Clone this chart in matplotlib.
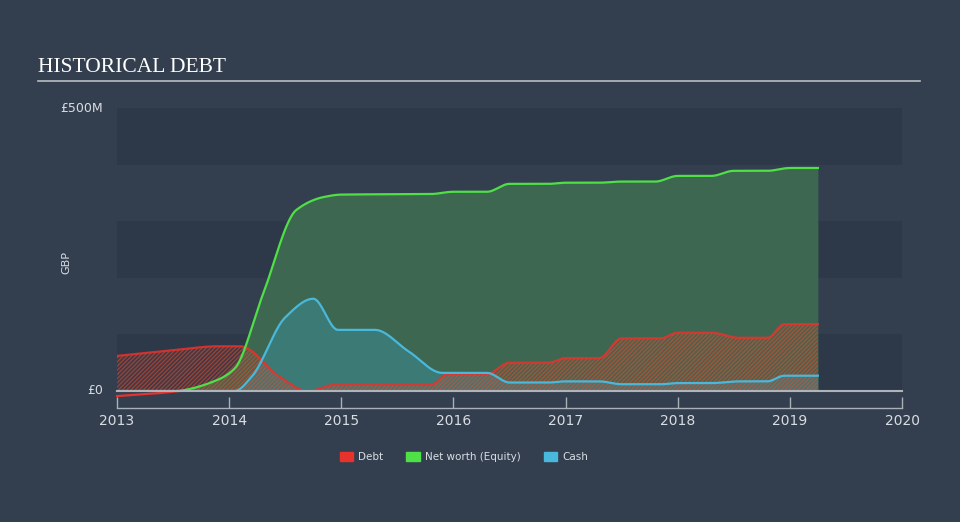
import numpy as np
import matplotlib
matplotlib.use("Agg")
import matplotlib.pyplot as plt
from matplotlib.lines import Line2D
from matplotlib.patches import Patch

# ---- data (GBP millions) ----
debt_t = [2013.0, 2013.5, 2013.9, 2014.1, 2014.45, 2014.7, 2014.95, 2015.8, 2015.95, 2016.3, 2016.5, 2016.85, 2017.0, 2017.3, 2017.5, 2017.85, 2018.0, 2018.3, 2018.55, 2018.8, 2018.95, 2019.25]
debt_v = [62, 72, 79, 79, 25, 0, 11, 11, 30, 30, 50, 50, 58, 58, 93, 93, 103, 103, 94, 94, 118, 118]

eq_t = [2013.0, 2013.55, 2013.9, 2014.05, 2014.3, 2014.6, 2014.85, 2015.0, 2015.8, 2016.0, 2016.3, 2016.5, 2016.85, 2017.0, 2017.3, 2017.5, 2017.8, 2018.0, 2018.3, 2018.5, 2018.8, 2019.0, 2019.25]
eq_v = [-9, 0, 20, 40, 170, 320, 343, 347, 348, 352, 352, 366, 366, 368, 368, 370, 370, 380, 380, 389, 389, 394, 394]

cash_t = [2013.0, 2014.05, 2014.2, 2014.5, 2014.75, 2014.97, 2015.3, 2015.6, 2015.9, 2016.3, 2016.5, 2016.85, 2017.0, 2017.3, 2017.5, 2017.85, 2018.0, 2018.3, 2018.55, 2018.8, 2018.95, 2019.25]
cash_v = [0, 0, 25, 130, 163, 108, 108, 70, 32, 32, 15, 15, 17, 17, 12, 12, 14, 14, 17, 17, 27, 27]

year_ticks = [2013, 2014, 2015, 2016, 2017, 2018, 2019, 2020]
legend_labels = ["Debt", "Net worth (Equity)", "Cash"]

BG = "#333f4f"
BAND = "#2d3948"
RED = "#e8322c"
GREEN = "#4fe048"
BLUE = "#48b9dc"
TXT = "#d8dde3"

plt.rcParams["hatch.linewidth"] = 0.9


def monotone(x, y, n=600):
    x = np.asarray(x, float); y = np.asarray(y, float)
    h = np.diff(x); d = np.diff(y) / h
    m = np.zeros_like(y)
    m[0], m[-1] = d[0], d[-1]
    for i in range(1, len(y) - 1):
        if d[i - 1] * d[i] <= 0:
            m[i] = 0
        else:
            w1 = 2 * h[i] + h[i - 1]; w2 = h[i] + 2 * h[i - 1]
            m[i] = (w1 + w2) / (w1 / d[i - 1] + w2 / d[i])
    xs = np.linspace(x[0], x[-1], n)
    idx = np.clip(np.searchsorted(x, xs) - 1, 0, len(x) - 2)
    t = (xs - x[idx]) / h[idx]
    h00 = 2 * t**3 - 3 * t**2 + 1; h10 = t**3 - 2 * t**2 + t
    h01 = -2 * t**3 + 3 * t**2; h11 = t**3 - t**2
    ys = h00 * y[idx] + h10 * h[idx] * m[idx] + h01 * y[idx + 1] + h11 * h[idx] * m[idx + 1]
    return xs, ys


fig = plt.figure(figsize=(9.6, 5.22), dpi=100, facecolor=BG)
ax = fig.add_axes([117 / 960, 1 - 391 / 522, (902 - 117) / 960, (391 - 108) / 522])
ax.set_facecolor(BG)
ax.set_xlim(2013, 2020)
ax.set_ylim(0, 500)

for lo in (0, 200, 400):
    ax.axhspan(lo, lo + 100, color=BAND, zorder=0, lw=0)

ex, ey = monotone(eq_t, eq_v)
cx, cy = monotone(cash_t, cash_v)
dx, dy = monotone(debt_t, debt_v)

ax.fill_between(ex, 0, ey, where=ey > 0, color="#3f6a52", alpha=0.95, lw=0, zorder=1)
ax.fill_between(cx, 0, cy, color="#3a8a93", alpha=0.55, lw=0, zorder=2)
ax.fill_between(dx, 0, dy, color=RED, alpha=0.12, lw=0, zorder=3)
ax.fill_between(dx, 0, dy, facecolor="none", edgecolor="#e0502e", hatch="////////", lw=0, alpha=0.55, zorder=3)

ax.plot(ex, np.where(ey >= 0, ey, np.nan), color=GREEN, lw=1.6, zorder=5, clip_on=False)
ax.plot(ex, np.where(ey <= 0.5, ey, np.nan), color=RED, lw=1.6, zorder=5, clip_on=False)
ax.plot(cx, cy, color=BLUE, lw=1.6, zorder=6)
ax.plot(dx, dy, color=RED, lw=1.6, alpha=0.85, zorder=4)

ax.axhline(0, color="#b0b4ba", lw=1.5, zorder=7, clip_on=False)

for s in ax.spines.values():
    s.set_visible(False)
ax.set_xticks([]); ax.set_yticks([])

# x axis below
ax2 = fig.add_axes([117 / 960, 1 - 408 / 522, (902 - 117) / 960, 0.01])
ax2.set_xlim(2013, 2020)
ax2.patch.set_visible(False)
for k in ("left", "right", "top"):
    ax2.spines[k].set_visible(False)
ax2.spines["bottom"].set_color("#a9b0b8")
ax2.spines["bottom"].set_linewidth(1)
ax2.set_xticks(year_ticks)
ax2.set_xticklabels([str(y) for y in year_ticks])
ax2.tick_params(axis="x", direction="in", length=8, width=1, color="#a9b0b8", labelcolor=TXT,
                labelsize=10, pad=4)
ax2.set_yticks([])

# y labels
fig.text(103 / 960, 1 - 108 / 522, "£500M", ha="right", va="center", color=TXT, fontsize=9)
fig.text(103 / 960, 1 - 391 / 522, "£0", ha="right", va="center", color=TXT, fontsize=9)
fig.text(66 / 960, 1 - 262 / 522, "GBP", ha="center", va="center", rotation=90, color=TXT, fontsize=8)

# title
fig.text(38 / 960, 1 - 67 / 522, "HISTORICAL DEBT", ha="left", va="center", color="white",
         fontsize=15.5, family="Liberation Serif")
fig.add_artist(Line2D([38 / 960, 920 / 960], [1 - 81 / 522, 1 - 81 / 522], color="#b8bcc2", lw=1.2))

# legend
handles = [Patch(color=RED), Patch(color=GREEN), Patch(color=BLUE)]
fig.legend(handles, legend_labels, loc="center", bbox_to_anchor=(464 / 960, 1 - 457 / 522), ncol=3,
           frameon=False, labelcolor=TXT, fontsize=7.5, handlelength=1.3, handleheight=0.9,
           columnspacing=2.2, handletextpad=0.5)

fig.savefig("out.png", dpi=100, facecolor=BG)
